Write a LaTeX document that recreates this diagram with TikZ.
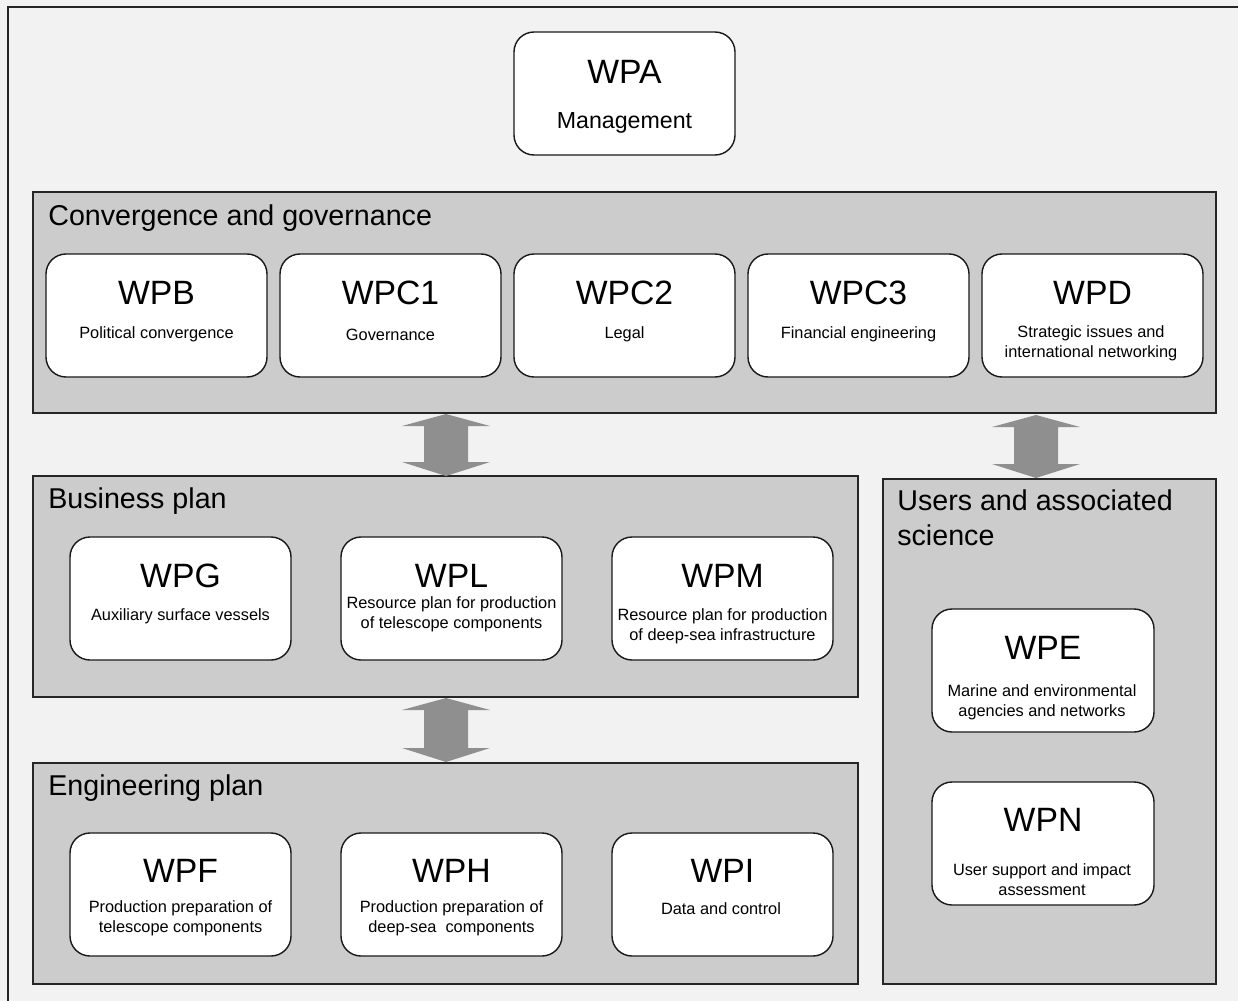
\documentclass[tikz,border=0pt]{standalone}
\usepackage{fontspec}
\setmainfont{Liberation Sans}
\definecolor{bgc}{HTML}{F2F2F2}
\definecolor{grpc}{HTML}{CCCCCC}
\definecolor{arrc}{HTML}{8F8F8F}
\begin{document}
\begin{tikzpicture}[x=0.02cm,y=-0.02cm,
  grp/.style={draw=black!85,line width=1.1pt,fill=grpc},
  wpbox/.style={draw=black!90,line width=0.8pt,fill=white,rounded corners=0.4cm},
  wptitle/.style={inner sep=0pt,font=\fontsize{19.2}{20}\selectfont},
  wpsub/.style={inner sep=0pt,font=\fontsize{9.3}{11.3}\selectfont,align=center},
  grptitle/.style={inner sep=0pt,anchor=west,font=\fontsize{16.3}{20}\selectfont,align=left},
  arr/.style={fill=arrc}]
\useasboundingbox (0,0) rectangle (1238,1001);
\fill[bgc] (0,0) rectangle (1238,1001);
\draw[line width=1.1pt,draw=black!85] (8,1010) -- (8,7) -- (1245,7);

% WPA
\draw[wpbox] (514,32) rectangle (735,155);
\node[wptitle] (wpa) at (624.5,72) {WPA};
\node[inner sep=0pt,font=\fontsize{13.2}{15}\selectfont] (wpas) at (624.5,123) {Management};

% Convergence and governance
\draw[grp] (33,192) rectangle (1216,413);
\node[grptitle] (g1) at (48,218) {Convergence and governance};

\foreach \nm/\xa/\tt/\st in {wpb/46/WPB/{Political convergence},wpc1/280/WPC1/{Governance},wpc2/514/WPC2/{Legal},wpc3/748/WPC3/{Financial engineering}}{
  \draw[wpbox] (\xa,254) rectangle ++(221,123);
  \node[wptitle] (\nm) at (\xa+110.5,293) {\tt};
  \node[wpsub] (\nm s) at (\xa+110.5,334.5) {\st};
}
\draw[wpbox] (982,254) rectangle ++(221,123);
\node[wptitle] (wpd) at (1092.5,293) {WPD};
\node[wpsub] (wpds) at (1091,343.5) {Strategic issues and\\international networking};

% Business plan
\draw[grp] (33,476) rectangle (858,697);
\node[grptitle] (g2) at (48,501) {Business plan};
\draw[wpbox] (70,537) rectangle ++(221,123);
\node[wptitle] (wpg) at (180.5,576) {WPG};
\node[wpsub] (wpgs) at (180.5,616.5) {Auxiliary surface vessels};
\draw[wpbox] (341,537) rectangle ++(221,123);
\node[wptitle] (wpl) at (451.5,576) {WPL};
\node[wpsub] (wpls) at (451.5,614.5) {Resource plan for production\\of telescope components};
\draw[wpbox] (612,537) rectangle ++(221,123);
\node[wptitle] (wpm) at (722.5,576) {WPM};
\node[wpsub] (wpms) at (722.5,626.5) {Resource plan for production\\of deep-sea infrastructure};

% Engineering plan
\draw[grp] (33,763) rectangle (858,984);
\node[grptitle] (g3) at (48,788) {Engineering plan};
\draw[wpbox] (70,833) rectangle ++(221,123);
\node[wptitle] (wpf) at (180.5,871) {WPF};
\node[wpsub] (wpfs) at (180.5,918.5) {Production preparation of\\telescope components};
\draw[wpbox] (341,833) rectangle ++(221,123);
\node[wptitle] (wph) at (451.5,871) {WPH};
\node[wpsub] (wphs) at (451.5,918.5) {Production preparation of\\deep-sea\ \ components};
\draw[wpbox] (612,833) rectangle ++(221,123);
\node[wptitle] (wpi) at (722.5,871) {WPI};
\node[wpsub] (wpis) at (721,908.5) {Data and control};

% Users and associated science
\draw[grp] (883,479) rectangle (1216,984);
\node[grptitle,anchor=north west] (g4) at (897,489) {Users and associated\\science};
\draw[wpbox] (932,609) rectangle ++(222,123);
\node[wptitle] (wpe) at (1043,648) {WPE};
\node[wpsub] (wpes) at (1042,702.5) {Marine and environmental\\agencies and networks};
\draw[wpbox] (932,782) rectangle ++(222,123);
\node[wptitle] (wpn) at (1043,820) {WPN};
\node[wpsub] (wpns) at (1042,880) {User support and impact\\assessment};

% double arrows
\newcommand\dblarr[3]{%
  \fill[arr] (#1,#2) -- (#1+44,#2+12) -- (#1+22,#2+12) -- (#1+22,#3-14) -- (#1+44,#3-14)
    -- (#1,#3) -- (#1-44,#3-14) -- (#1-22,#3-14) -- (#1-22,#2+12) -- (#1-44,#2+12) -- cycle;}
\dblarr{446}{414}{476}
\dblarr{1036}{415}{478}
\dblarr{446}{698}{762}
\end{tikzpicture}
\end{document}
